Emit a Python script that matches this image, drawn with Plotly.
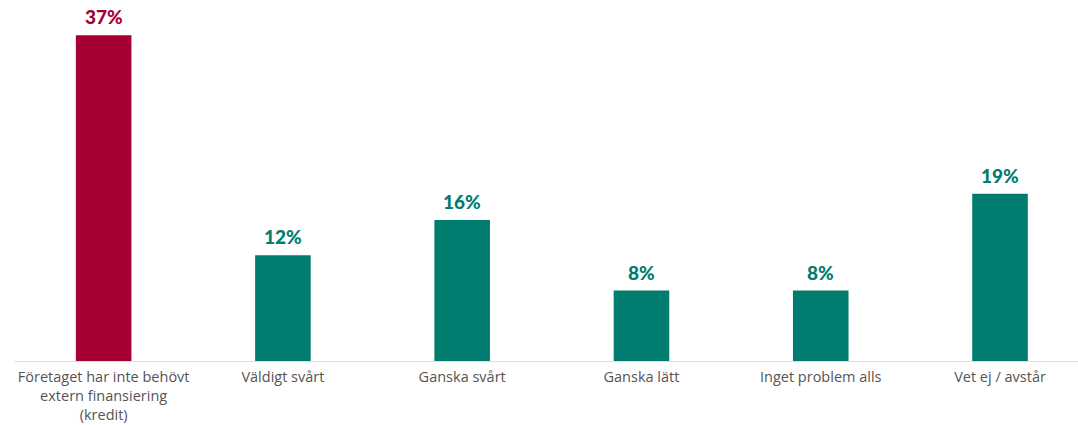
import plotly.graph_objects as go

# Survey answers and their shares (percent)
categories = [
    "Företaget har inte behövt<br>extern finansiering<br>(kredit)",
    "Väldigt svårt",
    "Ganska svårt",
    "Ganska lätt",
    "Inget problem alls",
    "Vet ej / avstår",
]
values = [37, 12, 16, 8, 8, 19]
labels = [f"{v}%" for v in values]

RED = "#A50034"
TEAL = "#007D6E"
colors = [RED] + [TEAL] * (len(values) - 1)

xs = list(range(len(categories)))

fig = go.Figure(
    go.Bar(
        x=xs,
        y=values,
        width=0.31,
        marker=dict(color=colors, line=dict(width=0)),
        hoverinfo="skip",
    )
)

# Value labels above each bar
for x, v, lab, c in zip(xs, values, labels, colors):
    fig.add_annotation(
        x=x,
        y=v,
        text=lab,
        showarrow=False,
        yanchor="bottom",
        yshift=5,
        font=dict(family="Lato", size=19, color=c, weight=900),
    )

fig.update_layout(
    width=1078,
    height=425,
    margin=dict(l=14, r=0, t=0, b=64, autoexpand=False),
    paper_bgcolor="white",
    plot_bgcolor="white",
    showlegend=False,
    xaxis=dict(
        range=[-0.5, 5.435],
        automargin=False,
        tickmode="array",
        tickvals=xs,
        ticktext=categories,
        tickfont=dict(family="Open Sans", size=14.5, color="#555555"),
        showgrid=False,
        zeroline=False,
        showline=True,
        linecolor="#DDDDDD",
        linewidth=1,
        ticks="",
        ticklabelstandoff=3,
    ),
    yaxis=dict(
        range=[0, 41],
        visible=False,
        automargin=False,
        showgrid=False,
        zeroline=False,
    ),
)

fig.write_html("out.html")
